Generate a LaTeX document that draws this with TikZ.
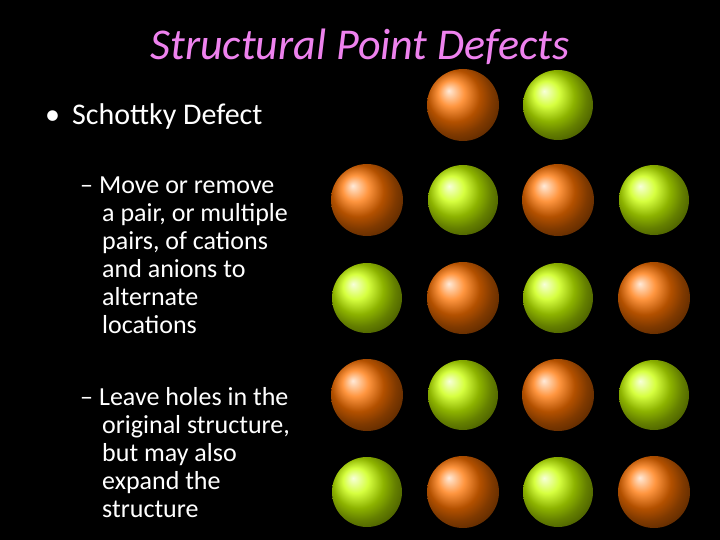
\documentclass[tikz,border=0pt]{standalone}
\usepackage{fontspec}
\setmainfont{Carlito}
\begin{document}
\begin{tikzpicture}[x=1pt,y=-1pt,
 orb/.style={circle,minimum size=72pt,inner sep=0pt,ball color=orange!90!red,shading=ball},
 grb/.style={circle,minimum size=70pt,inner sep=0pt,ball color=lime!85!yellow,shading=ball},
 txt/.style={anchor=west,text=white,inner sep=0pt,align=left}]
\fill[black] (0,0) rectangle (720,540);
\useasboundingbox (0,0) rectangle (720,540);
\node[text={rgb,255:red,238;green,130;blue,238},font=\fontsize{44}{48}\selectfont\itshape] (title) at (360,47) {Structural Point Defects};
\node[txt,font=\fontsize{30}{34}\selectfont] (b1) at (45,117) {•\hspace{12pt}Schottky Defect};
\node[txt,font=\fontsize{26}{28}\selectfont,anchor=north west] (s1) at (80,177) {–\hspace{6pt}Move or remove\\\hspace{22pt}a pair, or multiple\\\hspace{22pt}pairs, of cations\\\hspace{22pt}and anions to\\\hspace{22pt}alternate\\\hspace{22pt}locations};
\node[txt,font=\fontsize{26}{28}\selectfont,anchor=north west] (s2) at (80,387) {–\hspace{6pt}Leave holes in the\\\hspace{22pt}original structure,\\\hspace{22pt}but may also\\\hspace{22pt}expand the\\\hspace{22pt}structure};
\node[orb] (o01) at (463,105) {};
\node[grb] (g02) at (558,105) {};
\node[orb] (o10) at (367,200) {};
\node[grb] (g11) at (463,200) {};
\node[orb] (o12) at (558,200) {};
\node[grb] (g13) at (654,200) {};
\node[grb] (g20) at (367,298) {};
\node[orb] (o21) at (463,298) {};
\node[grb] (g22) at (558,298) {};
\node[orb] (o23) at (654,298) {};
\node[orb] (o30) at (367,395) {};
\node[grb] (g31) at (463,395) {};
\node[orb] (o32) at (558,395) {};
\node[grb] (g33) at (654,395) {};
\node[grb] (g40) at (367,492) {};
\node[orb] (o41) at (463,492) {};
\node[grb] (g42) at (558,492) {};
\node[orb] (o43) at (654,492) {};
\end{tikzpicture}
\end{document}
